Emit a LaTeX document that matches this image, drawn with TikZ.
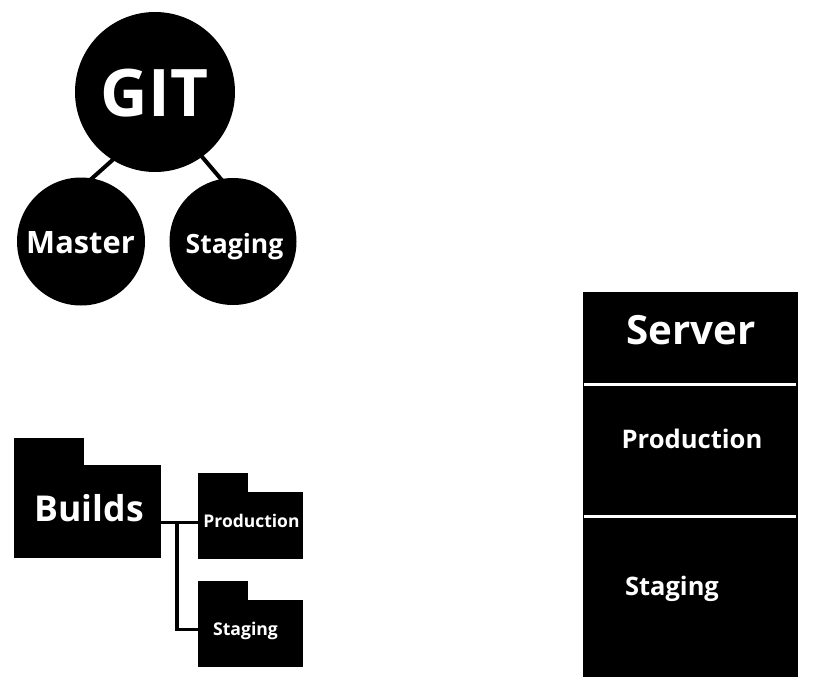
\documentclass[tikz,border=0pt]{standalone}
\usepackage{fontspec}
\setmainfont{Open Sans}
\tikzset{
  x=0.75pt,y=-0.75pt,
  disc/.style={circle,fill=black,draw=none,inner sep=0pt,minimum size=#1*0.75pt},
  panel/.style={rectangle,fill=black,draw=none,inner sep=0pt},
  label/.style={text=white,anchor=base,inner sep=0pt,font=\bfseries},
  link/.style={draw=black,line width=3pt,line cap=butt},
  branch/.style={link,line width=2.6pt,line join=miter},
  divider/.style={draw=white,line width=2.4pt},
}
\begin{document}
\begin{tikzpicture}
\useasboundingbox (0,0) rectangle (817,685);
\fill[white] (0,0) rectangle (817,685);
% git
\node[disc=160] (git) at (155,92) {};
\node[disc=128] (master) at (81,241.5) {};
\node[disc=127] (staging) at (233,241.5) {};
\draw[link,shorten <=-2pt,shorten >=-2pt] (git.238) -- (master.80);
\draw[link,shorten <=-2pt,shorten >=-2pt] (git.-54.5) -- (staging.101.6);
\node[label,font=\fontsize{49.2pt}{55pt}\selectfont\bfseries] (gitt) at (154.5,116) {GIT};
\node[label,font=\fontsize{23.1pt}{26pt}\selectfont\bfseries] (mastert) at (80.5,253.5) {Master};
\node[label,font=\fontsize{19.9pt}{24pt}\selectfont\bfseries] (stagingt) at (234.5,253.2) {Staging};
% folders
\node[panel,minimum width=110.25pt,minimum height=70.1pt] (builds) at (87.5,511.75) {};
\node[panel,minimum width=52.5pt,minimum height=21pt] (buildstab) at (49,451.5) {};
\node[panel,minimum width=78.75pt,minimum height=49.9pt] (prod) at (250.5,525.25) {};
\node[panel,minimum width=37.5pt,minimum height=15pt] (prodtab) at (223,482.5) {};
\node[panel,minimum width=78.75pt,minimum height=50.25pt] (stag) at (250.5,633.5) {};
\node[panel,minimum width=37.5pt,minimum height=15pt] (stagtab) at (223,590.5) {};
\coordinate (trunk) at (177,522.5);
\coordinate (elbow) at (177,629.5);
\draw[branch] (builds.east |- trunk) -- (prod.west |- trunk);
\draw[branch] (trunk) -- (elbow) -- (stag.west |- elbow);
\node[label,font=\fontsize{26.7pt}{30pt}\selectfont\bfseries] (buildst) at (89.3,521.2) {Builds};
\node[label,font=\fontsize{13.1pt}{16pt}\selectfont\bfseries] (prodt) at (251.5,527.7) {Production};
\node[label,font=\fontsize{13.2pt}{16pt}\selectfont\bfseries] (stagt) at (245.5,635.7) {Staging};
% server
\node[panel,minimum width=161.25pt,minimum height=288.75pt] (server) at (690.5,484.5) {};
\coordinate (d1l) at (584,384.4);\coordinate (d1r) at (796,384.4);
\coordinate (d2l) at (584,516.5);\coordinate (d2r) at (796,516.5);
\draw[divider] (d1l) -- (d1r);
\draw[divider] (d2l) -- (d2r);
\node[label,font=\fontsize{30.2pt}{34pt}\selectfont\bfseries] (servert) at (691.3,344) {Server};
\node[label,font=\fontsize{19.2pt}{22pt}\selectfont\bfseries] (sprod) at (692,448) {Production};
\node[label,font=\fontsize{19.1pt}{22pt}\selectfont\bfseries] (sstag) at (672,595.2) {Staging};
\end{tikzpicture}
\end{document}
